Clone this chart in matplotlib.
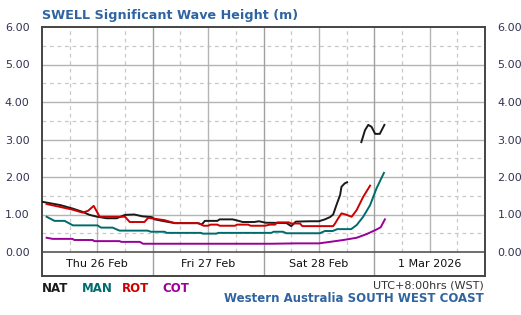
import numpy as np
import matplotlib
matplotlib.use("Agg")
import matplotlib.pyplot as plt

# hours since Thu 26 Feb 00:00 (WST)
nat_h = [0, 4, 6.6, 8.8, 10.3, 12, 14, 16.2, 18, 20, 21.8, 23.8, 24.4, 26.5, 28.8, 33.8, 34.6, 35.3,
         38, 38.5, 41.3, 42, 43.5, 46, 47, 48.5, 49.4, 53, 54, 55, 58, 60, 61.3, 62.4, 63.1, 63.8,
         64.6, 64.9, 65.6, 66.1, 67.5, 69.2, 70, 70.7, 71.4, 72.2, 73.2, 74.2]
nat_v = [1.34, 1.25, 1.16, 1.07, 0.99, 0.94, 0.9, 0.9, 0.99, 1.0, 0.95, 0.93, 0.87, 0.82, 0.77, 0.77, 0.73, 0.83,
         0.83, 0.87, 0.87, 0.85, 0.8, 0.8, 0.82, 0.78, 0.78, 0.77, 0.69, 0.81, 0.82, 0.82, 0.87, 0.93, 1.0, 1.25,
         1.52, 1.74, 1.83, 1.86, np.nan, 2.93, 3.25, 3.39, 3.34, 3.15, 3.15, 3.39]

rot_h = [1, 4, 6.6, 8.8, 10, 11.2, 12.5, 18, 19, 22.2, 23, 26.5, 28.8, 33.8, 34.5, 35, 36, 36.5, 38, 38.5,
         41.8, 42.3, 44.7, 45.2, 48.3, 49.4, 50.5, 51, 53.5, 54, 55.9, 56.4, 63.1, 63.5, 64.2, 64.9, 65.8,
         67.1, 68.2, 69.6, 71.1]
rot_v = [1.28, 1.2, 1.13, 1.05, 1.1, 1.23, 0.94, 0.94, 0.8, 0.8, 0.91, 0.85, 0.77, 0.77, 0.74, 0.7, 0.7, 0.73, 0.73, 0.7,
         0.7, 0.73, 0.73, 0.7, 0.7, 0.73, 0.73, 0.79, 0.79, 0.76, 0.76, 0.69, 0.69, 0.76, 0.9, 1.03, 1.0,
         0.94, 1.12, 1.47, 1.77]

man_h = [1, 2.7, 4.9, 6.7, 12, 12.8, 15.3, 16.8, 22.9, 23.6, 26.6, 27, 34.5, 34.8, 37.8, 38.2, 49.7, 50.2,
         52.2, 53, 60.2, 61.3, 63, 64, 67, 68.2, 69.6, 71.1, 72.5, 74.1]
man_v = [0.94, 0.83, 0.83, 0.71, 0.71, 0.65, 0.65, 0.57, 0.57, 0.54, 0.54, 0.51, 0.51, 0.49, 0.49, 0.51, 0.51, 0.54,
         0.54, 0.5, 0.5, 0.56, 0.56, 0.61, 0.61, 0.72, 0.94, 1.25, 1.7, 2.11]

cot_h = [1, 2.3, 6.6, 7, 11, 11.3, 16.8, 17.2, 21.2, 21.9, 49.5, 55, 60, 62.4, 65.3, 68.2, 70.4, 72.5, 73.4, 74.3]
cot_v = [0.38, 0.35, 0.35, 0.32, 0.32, 0.29, 0.29, 0.27, 0.27, 0.22, 0.22, 0.23, 0.23, 0.27, 0.32, 0.38, 0.48,
         0.6, 0.66, 0.87]

day_labels = ["Thu 26 Feb", "Fri 27 Feb", "Sat 28 Feb", "1 Mar 2026"]
series_names = ["NAT", "MAN", "ROT", "COT"]
series_colors = ["#1a1a1a", "#006b6b", "#cc0000", "#990099"]

title_blue = "#2f64a0"
tick_col = "#333355"

fig = plt.figure(figsize=(5.21, 3.15), dpi=100)
ax = fig.add_axes([42 / 521, (315 - 276) / 315, (485 - 42) / 521, (276 - 27) / 315])
ymin = -0.64
ax.set_xlim(0, 96)
ax.set_ylim(ymin, 6)
zero_frac = -ymin / (6 - ymin)

# grid: solid on whole units / 12h, dashed halves / 6h, day lines go through the date strip
for y in np.arange(0.5, 6, 0.5):
    if y == int(y):
        ax.axhline(y, color="#b4b4b4", lw=1, zorder=1)
    else:
        ax.axhline(y, color="#c8c8c8", lw=0.9, ls=(0, (3, 3)), zorder=1)
for h in range(6, 96, 6):
    if h % 24 == 0:
        ax.axvline(h, color="#a0a0a0", lw=1, zorder=1)
    elif h % 12 == 0:
        ax.axvline(h, ymin=zero_frac, color="#b4b4b4", lw=1, zorder=1)
    else:
        ax.axvline(h, ymin=zero_frac, color="#c8c8c8", lw=0.9, ls=(0, (3, 3)), zorder=1)
ax.axhline(0, color="#555555", lw=1.2, zorder=1)

ax.plot(nat_h, nat_v, color=series_colors[0], lw=1.4, zorder=3)
ax.plot(man_h, man_v, color=series_colors[1], lw=1.4, zorder=3)
ax.plot(rot_h, rot_v, color=series_colors[2], lw=1.4, zorder=3)
ax.plot(cot_h, cot_v, color=series_colors[3], lw=1.4, zorder=3)

for i, lab in enumerate(day_labels):
    ax.text(12 + 24 * i, ymin / 2, lab, ha="center", va="center", fontsize=8, color="#111111")

ax.set_xticks([])
ax.set_yticks(range(7))
ax.set_yticklabels(["%.2f" % v for v in range(7)])
ax.tick_params(axis="y", length=0, labelsize=8, labelcolor=tick_col, labelright=True, pad=9)
for s in ax.spines.values():
    s.set_color("#444444")
    s.set_linewidth(1.4)

fig.text(42 / 521, 1 - 16 / 315, "SWELL Significant Wave Height (m)", fontsize=9.2,
         fontweight="bold", color=title_blue, va="center", ha="left")

xs = [42, 82, 122, 162]
for x, name, col in zip(xs, series_names, series_colors):
    fig.text(x / 521, 1 - 289 / 315, name, fontsize=8.5, fontweight="bold", color=col,
             va="center", ha="left")
fig.text(484 / 521, 1 - 285 / 315, "UTC+8:00hrs (WST)", fontsize=8, color="#333333",
         va="center", ha="right")
fig.text(484 / 521, 1 - 299 / 315, "Western Australia SOUTH WEST COAST", fontsize=8.5,
         fontweight="bold", color=title_blue, va="center", ha="right")

fig.savefig("out.png", dpi=100)
